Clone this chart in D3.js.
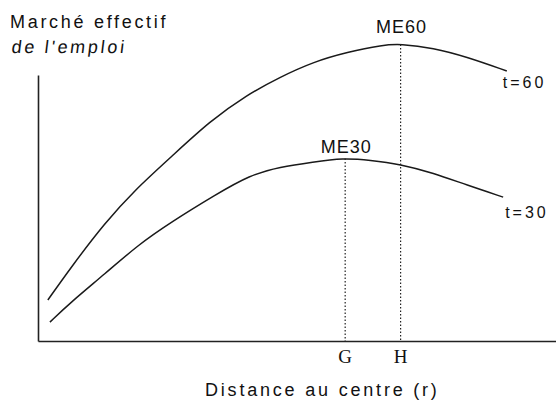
<!DOCTYPE html>
<html>
<head>
<meta charset="utf-8">
<script src="https://cdn.jsdelivr.net/npm/d3@7"></script>
<style>
  body { margin: 0; background: #fff; }
  text { font-family: "Liberation Sans", Arial, sans-serif; fill: #111; }
</style>
</head>
<body>
<div id="chart"></div>
<script>
// curves (distance r, effective market value)
const r60 = [1.9, 6.4, 12.9, 18.7, 25.7, 33.2, 40.3, 46.7, 53.1, 59.7, 66.6, 69.9, 76.3, 82.8, 90.5]
const me60 = [15.4, 27.8, 44.4, 56.8, 69.2, 82.7, 92.5, 99.2, 104.9, 108.6, 111.3, 111.7, 110.2, 106.8, 101.5]
const r30 = [2.3, 6.4, 12.9, 19.3, 25.7, 34.2, 40.9, 46.7, 53.1, 58.9, 64.1, 69.9, 76.3, 82.8, 89.8]
const me30 = [7.1, 14.7, 25.2, 36.1, 44.7, 54.9, 62.4, 65.4, 67.3, 68.8, 68.0, 66.5, 63.2, 58.6, 54.1]

// peak positions on the distance axis
const markers = [
  { name: "G", r: 59.3, value: 68.6, label: "ME30" },
  { name: "H", r: 70.0, value: 111.5, label: "ME60" }
]

const seriesNames = ["t=60", "t=30"]

const W = 556, H = 404

const svg = d3.select("#chart")
  .append("svg")
    .attr("width", W)
    .attr("height", H)

const x = d3.scaleLinear().domain([0, 100]).range([38, 556])
const y = d3.scaleLinear().domain([0, 100]).range([341, 75])

// axes, no ticks
svg.append("g")
    .attr("transform", `translate(0, ${y(0)})`)
    .call(d3.axisBottom(x).ticks(0).tickSizeOuter(0))
    .select(".domain")
      .attr("stroke", "#222")
      .attr("stroke-width", 1.6)

svg.append("g")
    .attr("transform", `translate(${x(0)}, 0)`)
    .call(d3.axisLeft(y).ticks(0).tickSizeOuter(0))
    .select(".domain")
      .attr("stroke", "#222")
      .attr("stroke-width", 1.6)

const line = d3.line()
  .curve(d3.curveBasis)
  .x(d => x(d.r))
  .y(d => y(d.v))

const series = [
  r60.map((r, i) => ({ r: r, v: me60[i] })),
  r30.map((r, i) => ({ r: r, v: me30[i] }))
]

series.forEach((data, i) => {
  svg.append("path")
      .datum(data)
      .attr("fill", "none")
      .attr("stroke", "#1a1a1a")
      .attr("stroke-width", 1.5)
      .attr("d", line)

  const last = data[data.length - 1]
  svg.append("text")
      .attr("x", x(last.r) + (i === 0 ? -4 : 2))
      .attr("y", y(last.v) + (i === 0 ? 17 : 21))
      .style("font-size", "16px")
      .style("letter-spacing", "3px")
      .text(seriesNames[i])
})

// dotted drop lines + labels
markers.forEach(m => {
  svg.append("line")
      .attr("x1", x(m.r))
      .attr("x2", x(m.r))
      .attr("y1", y(m.value))
      .attr("y2", y(0))
      .attr("stroke", "#222")
      .attr("stroke-width", 1.2)
      .attr("stroke-dasharray", "1.5,2")

  svg.append("text")
      .attr("x", x(m.r))
      .attr("y", y(0) + 22)
      .attr("text-anchor", "middle")
      .style("font-family", "'Liberation Serif', serif")
      .style("font-size", "19px")
      .text(m.name)

  svg.append("text")
      .attr("x", x(m.r) + 1)
      .attr("y", y(m.value) - (m.name === "H" ? 11 : 6))
      .attr("text-anchor", "middle")
      .style("font-size", "18px")
      .style("letter-spacing", "1px")
      .text(m.label)
})

// axis titles
svg.append("text")
    .attr("x", 10)
    .attr("y", 28)
    .style("font-size", "18px")
    .style("letter-spacing", "2.7px")
    .text("Marché effectif")

svg.append("text")
    .attr("transform", "translate(11,53) skewX(-7)")
    .style("font-size", "18px")
    .style("letter-spacing", "2.7px")
    .text("de l'emploi")

svg.append("text")
    .attr("x", 205)
    .attr("y", 396)
    .style("font-size", "18px")
    .style("letter-spacing", "2.8px")
    .text("Distance au centre (r)")
</script>
</body>
</html>
